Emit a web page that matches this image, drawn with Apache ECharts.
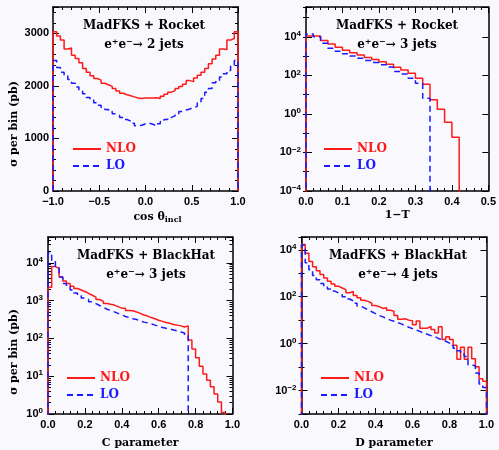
<!DOCTYPE html>
<html>
<head>
<meta charset="utf-8">
<script src="https://cdn.jsdelivr.net/npm/echarts@6/dist/echarts.min.js"></script>
<style>
html, body { margin: 0; padding: 0; background: #f8f8fd; }
#chart { width: 499px; height: 450px; }
</style>
</head>
<body>
<div id="chart"></div>
<script>
// cos(theta_incl), 2 jets, bins of 0.04 from -1
const cosStart = -1, cosWidth = 0.04;
const cosNLO = [3030, 2950, 2870, 2700, 2720, 2580, 2520, 2440, 2330, 2260, 2190, 2140, 2110, 2050, 2020, 1990, 1950, 1900, 1860, 1830, 1810, 1790, 1770, 1760, 1770,
  1770, 1770, 1775, 1760, 1800, 1840, 1880, 1910, 1950, 1990, 2030, 2100, 2080, 2150, 2200, 2260, 2330, 2420, 2510, 2580, 2700, 2690, 2870, 2900, 3030];
const cosLO = [2480, 2350, 2260, 2200, 2120, 2050, 1980, 1920, 1850, 1780, 1730, 1680, 1630, 1590, 1550, 1510, 1470, 1440, 1400, 1360, 1330, 1290, 1240, 1250, 1280,
  1290, 1270, 1240, 1280, 1320, 1360, 1400, 1430, 1470, 1510, 1540, 1560, 1590, 1610, 1680, 1760, 1880, 1950, 2060, 2100, 2170, 2230, 2290, 2380, 2480];

// 1-T, 3 jets, bins of 0.02 from 0
const thrWidth = 0.02;
const thrNLO = [11000, 10900, 6310, 4270, 2820, 2000, 1480, 1120, 851, 661, 501, 380, 263, 191, 129, 70.8, 34.7, 5.37, 1.74, 0.372, 0.0617];
const thrLO = [14100, 10000, 4570, 2510, 1780, 1320, 1000, 759, 589, 457, 355, 269, 158, 117, 70.8, 38.9, 6.46];

// C parameter, 3 jets, bins of 0.02 from 0
const cWidth = 0.02;
const cNLO = [2240, 7940, 7080, 4170, 3310, 2820, 2400, 2090, 1910, 1740, 1550, 1380, 1230, 1070, 955, 832, 794, 759, 692, 631, 631, 550, 537, 501,
  457, 417, 389, 355, 331, 302, 282, 263, 251, 234, 224, 214, 200, 214, 91.2, 52.5, 30.9, 18.2, 11.5, 7.76, 5.25, 3.39, 2.09, 1.1];
const cLO = [18200, 11200, 7580, 4170, 2820, 2290, 1910, 1580, 1350, 1170, 1070, 933, 832, 741, 661, 589, 550, 501, 457,
  417, 380, 355, 331, 316, 288, 269, 257, 240, 224, 209, 195, 186, 178, 166, 158, 148, 138, 120];

// D parameter, 4 jets, bins of 0.02 from 0
const dWidth = 0.02;
const dNLO = [16600, 7080, 3160, 1910, 1260, 891, 631, 457, 347, 282, 234, 200, 148, 166, 112, 89.1, 70.8, 63.1, 52.5, 41.7, 38.0, 31.6, 33.9, 26.3, 24.0,
  15.8, 11.0, 11.5, 10.0, 9.55, 6.31, 9.12, 4.57, 4.57, 5.37, 3.98, 2.82, 5.25, 1.51, 1.95, 1.51, 0.851, 0.214, 0.692, 0.214, 0.692, 0.229, 0.102, 0.0316, 0.0251];
const dLO = [15800, 2820, 1410, 794, 525, 363, 275, 214, 174, 145, 126, 100, 79.4, 66.1, 52.5, 39.8, 33.1, 27.5, 22.9, 19.1, 15.8, 13.8, 12.0, 10.0, 8.91,
  7.94, 6.92, 5.75, 5.01, 4.37, 3.80, 3.31, 2.82, 2.51, 2.19, 2.00, 1.66, 1.45, 1.26, 1.05, 0.832, 0.631, 0.501, 0.355, 0.282, 0.126, 0.112, 0.0562, 0.0191, 0.0135];

const titles = ['MadFKS + Rocket', 'MadFKS + Rocket', 'MadFKS + BlackHat', 'MadFKS + BlackHat'];
const processes = ['2', '3', '3', '4'];

const RED = '#ff1a1a', BLUE = '#1a1aff';
const SERIF = 'DejaVu Serif';
const SANS = 'Liberation Sans';

function steps(start, width, vals, floor) {
  const pts = [[start, floor]];
  vals.forEach((v, i) => pts.push([+(start + i * width).toFixed(4), v]));
  const end = +(start + vals.length * width).toFixed(4);
  pts.push([end, vals[vals.length - 1]]);
  pts.push([end, floor]);
  return pts;
}

function hist(name, data, idx, color, dashed) {
  return {
    type: 'line', name, data, xAxisIndex: idx.x, yAxisIndex: idx.y,
    step: 'end', symbol: 'none', clip: true, animation: false,
    lineStyle: { color, width: 1.5, type: dashed ? [6, 4] : 'solid' },
    itemStyle: { color }
  };
}

const tickLabel = { fontFamily: SANS, fontWeight: 'bold', fontSize: 11, color: '#000' };
const frame = { show: true, onZero: false, lineStyle: { color: '#000', width: 1.5 } };

function xPair(grid, min, max, interval, name, gap, pad) {
  const base = {
    type: 'value', gridIndex: grid, min, max, interval, splitLine: { show: false },
    axisLine: frame,
    axisTick: { inside: true, length: 6, lineStyle: { color: '#000' } },
    minorTick: { show: true, splitNumber: 5, length: 3, lineStyle: { color: '#000' } }
  };
  return [
    Object.assign({}, base, {
      position: 'bottom',
      axisLabel: Object.assign({ margin: 5, formatter: v => v.toFixed(1).replace('-', '−') }, tickLabel),
      name, nameLocation: 'middle', nameGap: gap,
      nameTextStyle: {
        fontFamily: SERIF, fontWeight: 'bold', fontSize: 11, color: '#000', padding: pad || 0,
        rich: { sub: { fontFamily: SERIF, fontWeight: 'bold', fontSize: 8, verticalAlign: 'bottom', padding: [6, 0, 0, 0] } }
      }
    }),
    Object.assign({}, base, { position: 'top', axisLabel: { show: false } })
  ];
}

// label a power of ten; `step` = 2 keeps only even exponents
function powLabel(step) {
  return v => {
    const e = Math.log10(v);
    const r = Math.round(e);
    if (Math.abs(e - r) > 1e-6 || r % step !== 0) return '';
    return '10{s|' + String(r).replace('-', '−') + '}';
  };
}

const powRich = { s: { fontFamily: SANS, fontWeight: 'bold', fontSize: 8, verticalAlign: 'top', padding: [0, 0, 6, 0] } };

function logY(grid, pos, base, min, max, tickLen, labels, minor) {
  return {
    type: 'log', logBase: base, gridIndex: grid, position: pos, offset: 0, min, max, splitNumber: 10,
    splitLine: { show: false },
    axisLine: labels ? frame : { show: false },
    axisTick: { inside: true, length: tickLen, lineStyle: { color: '#000' } },
    minorTick: { show: !!minor, splitNumber: 9, length: 3, lineStyle: { color: '#000' } },
    axisLabel: labels ? Object.assign({ margin: 5, formatter: powLabel(base === 100 ? 2 : 1), rich: powRich }, tickLabel) : { show: false }
  };
}

const grids = [
  { left: 53, top: 7, width: 185, height: 184 },
  { left: 306, top: 7, width: 185, height: 184 },
  { left: 48, top: 237, width: 184.5, height: 183 },
  { left: 301.5, top: 237, width: 185, height: 183 }
];

const xAxes = [].concat(
  xPair(0, -1, 1, 0.5, 'cos θ{sub|incl}', 19, [0, 0, 0, 24]),
  xPair(1, 0, 0.5, 0.1, '1−T', 19),
  xPair(2, 0, 1, 0.2, 'C parameter', 24),
  xPair(3, 0, 1, 0.2, 'D parameter', 24)
);

const linY = {
  type: 'value', gridIndex: 0, min: 0, max: 3500, interval: 1000, splitLine: { show: false },
  axisLine: frame,
  axisTick: { inside: true, length: 6, lineStyle: { color: '#000' } },
  minorTick: { show: true, splitNumber: 5, length: 3, lineStyle: { color: '#000' } }
};

const yAxes = [
  Object.assign({}, linY, { position: 'left', axisLabel: Object.assign({ margin: 4, formatter: v => (v % 1000 === 0 ? String(v) : '') }, tickLabel) }),
  Object.assign({}, linY, { position: 'right', axisLabel: { show: false } }),
  // panel 2: long ticks every 2 decades, short every decade
  logY(1, 'left', 100, 1e-4, 3.5e5, 6, true),
  logY(1, 'left', 10, 1e-4, 3.5e5, 3, false),
  logY(1, 'right', 100, 1e-4, 3.5e5, 6, false),
  logY(1, 'right', 10, 1e-4, 3.5e5, 3, false),
  // panel 3: every decade plus 2..9 minor
  logY(2, 'left', 10, 1, 4.8e4, 6, true, true),
  logY(2, 'right', 10, 1, 4.8e4, 6, false, true),
  // panel 4
  logY(3, 'left', 100, 1e-3, 3.5e4, 6, true),
  logY(3, 'left', 10, 1e-3, 3.5e4, 3, false),
  logY(3, 'right', 100, 1e-3, 3.5e4, 6, false),
  logY(3, 'right', 10, 1e-3, 3.5e4, 3, false)
];
// right-hand copies need the frame line
yAxes[1].axisLine = frame; yAxes[4].axisLine = frame; yAxes[7].axisLine = frame; yAxes[10].axisLine = frame;

const series = [
  hist('NLO', steps(cosStart, cosWidth, cosNLO, 0), { x: 0, y: 0 }, RED, false),
  hist('LO', steps(cosStart, cosWidth, cosLO, 0), { x: 0, y: 0 }, BLUE, true),
  hist('NLO', steps(0, thrWidth, thrNLO, 1e-8), { x: 2, y: 2 }, RED, false),
  hist('LO', steps(0, thrWidth, thrLO, 1e-8), { x: 2, y: 2 }, BLUE, true),
  hist('NLO', steps(0, cWidth, cNLO, 1e-3), { x: 4, y: 6 }, RED, false),
  hist('LO', steps(0, cWidth, cLO, 1e-3), { x: 4, y: 6 }, BLUE, true),
  hist('NLO', steps(0, dWidth, dNLO, 1e-7), { x: 6, y: 8 }, RED, false),
  hist('LO', steps(0, dWidth, dLO, 1e-7), { x: 6, y: 8 }, BLUE, true)
];

function legendAt(left, top) {
  return {
    left, top, orient: 'vertical', itemWidth: 28, itemHeight: 10, itemGap: 5, padding: 0,
    selectedMode: false,
    itemStyle: { opacity: 0 },
    textStyle: { fontFamily: SERIF, fontWeight: 'bold', fontSize: 12 },
    data: [{ name: 'NLO', textStyle: { color: RED } }, { name: 'LO', textStyle: { color: BLUE } }]
  };
}

const titlePos = [[144, 26, 45], [397, 26, 45], [146, 256, 275], [398, 256, 275]];
const graphic = [];
titlePos.forEach((p, i) => {
  graphic.push({ type: 'text', x: p[0], y: p[1], style: { text: titles[i], align: 'center', verticalAlign: 'middle',
    font: 'bold 12px "DejaVu Serif"', fill: '#000' } });
  graphic.push({ type: 'text', x: p[0], y: p[2], style: { text: 'e{s|+}e{s|−}→ ' + processes[i] + ' jets', align: 'center', verticalAlign: 'middle',
    font: 'bold 12px "DejaVu Serif"', fill: '#000',
    rich: { s: { font: 'bold 8px "DejaVu Serif"', verticalAlign: 'top', padding: [0, 0, 6, 0] } } } });
});
[124, 352].forEach(y => {
  graphic.push({ type: 'text', x: 14, y, rotation: Math.PI / 2, style: { text: 'σ per bin (pb)', align: 'center', verticalAlign: 'middle',
    font: 'bold 11px "DejaVu Serif"', fill: '#000' } });
});

const chart = echarts.init(document.getElementById('chart'), null, { renderer: 'canvas' });
chart.setOption({
  backgroundColor: '#f8f8fd',
  animation: false,
  grid: grids,
  xAxis: xAxes,
  yAxis: yAxes,
  legend: [legendAt(72, 143), legendAt(323, 143), legendAt(66, 372), legendAt(320, 372)],
  graphic,
  series
});
</script>
</body>
</html>
